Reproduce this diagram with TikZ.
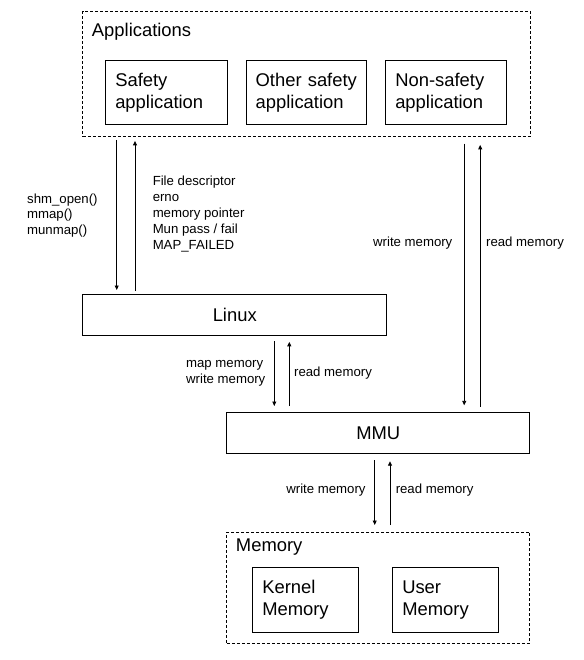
\documentclass[tikz,border=0pt]{standalone}
\usepackage{fontspec}
\setmainfont{Liberation Sans}
\usetikzlibrary{arrows.meta}

\begin{document}
\begin{tikzpicture}[
  x=1pt, y=-1pt,
  font=\fontsize{18.4}{22}\selectfont,
  line width=0.9pt,
  group/.style={draw, dash pattern=on 3pt off 2pt, anchor=north west, inner sep=0pt},
  box/.style={draw, align=left, anchor=north west, inner xsep=9.5pt, minimum height=64.6pt, text width=#1},
  box/.default=101.5pt,
  layerbox/.style={draw, anchor=north west, minimum width=303pt, minimum height=41pt},
  grouptitle/.style={anchor=west, inner sep=0pt},
  lbl/.style={font=\fontsize{13.2}{15.5}\selectfont, align=left, inner sep=0pt},
  arrow/.style={-{Triangle[length=4.5pt,width=4pt]}}
]
\useasboundingbox (0,0) rectangle (583,660);

% application layer
\node[group, minimum width=447.4pt, minimum height=125.3pt] (apps) at (82.3,10.7) {};
\node[grouptitle] (appstitle) at (91.5,31.7) {Applications};
\node[box=102.4pt] (safety)    at (105.3,59.7) {Safety\\application};
\node[box]         (other)     at (245.7,59.7) {Other safety\\application};
\node[box]         (nonsafety) at (385.3,59.7) {Non-safety\\application};

% kernel and hardware
\node[layerbox, minimum width=304pt] (linux) at (82.3,294) {Linux};
\node[layerbox] (mmu) at (226.3,412.3) {MMU};

% memory
\node[group, minimum width=303pt, minimum height=111.3pt] (memory) at (226.3,531.7) {};
\node[grouptitle] (memtitle) at (235.5,546.7) {Memory};
\node[box=87pt] (kernel) at (252.3,567.3) {Kernel\\Memory};
\node[box=87pt] (user)   at (392.3,567.3) {User\\Memory};

% apps <-> linux
\draw[arrow] ([xshift=34.4pt,yshift=-3pt]apps.south west) -- ([xshift=34.4pt,yshift=4pt]linux.north west);
\draw[arrow] ([xshift=52.7pt,yshift=3pt]linux.north west) -- ([xshift=52.7pt,yshift=-4pt]apps.south west);

% apps <-> mmu
\draw[arrow] ([xshift=-66.4pt,yshift=-6.7pt]apps.south east) -- ([xshift=-66pt,yshift=7pt]mmu.north east);
\draw[arrow] ([xshift=-50pt,yshift=5.6pt]mmu.north east) -- ([xshift=-50.4pt,yshift=-8pt]apps.south east);

% linux <-> mmu
\draw[arrow] ([xshift=192pt,yshift=-5.3pt]linux.south west) -- ([xshift=48pt,yshift=6.3pt]mmu.north west);
\draw[arrow] ([xshift=63pt,yshift=6.3pt]mmu.north west) -- ([xshift=207pt,yshift=-6pt]linux.south west);

% mmu <-> memory
\draw[arrow] ([xshift=148.4pt,yshift=-6pt]mmu.south west) -- ([xshift=148.4pt,yshift=6.7pt]memory.north west);
\draw[arrow] ([xshift=163.7pt,yshift=6.7pt]memory.north west) -- ([xshift=163.7pt,yshift=-7pt]mmu.south west);

% labels
\node[lbl, anchor=west] (calls) at (26.7,215.5) {shm\_open()\\mmap()\\munmap()};
\node[lbl, anchor=west, font=\fontsize{13.2}{16}\selectfont] (results) at (152.3,214.5)
  {File descriptor\\erno\\memory pointer\\Mun pass / fail\\MAP\_FAILED};
\node[lbl, anchor=east] (appwrite)  at (452.8,242.7) {write memory};
\node[lbl, anchor=west] (appread)   at (485.7,242.7) {read memory};
\node[lbl, anchor=west] (linuxmap)  at (185.7,373.3) {map memory\\write memory};
\node[lbl, anchor=west] (linuxread) at (293.7,373.3) {read memory};
\node[lbl, anchor=east] (mmuwrite)  at (366,489.7) {write memory};
\node[lbl, anchor=west] (mmuread)   at (395.3,489.7) {read memory};

\end{tikzpicture}
\end{document}
